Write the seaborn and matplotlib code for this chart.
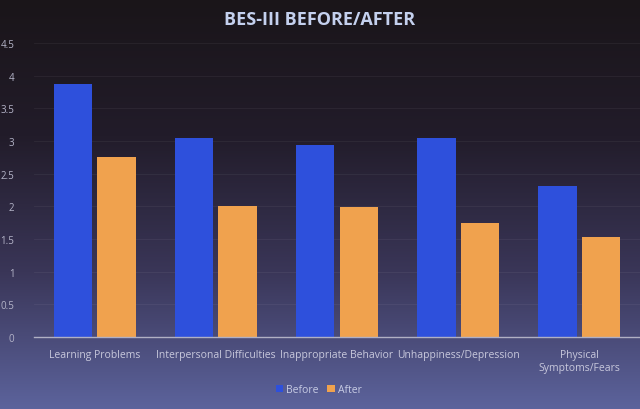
import numpy as np
import pandas as pd
import matplotlib
matplotlib.use("Agg")
import matplotlib.pyplot as plt
import seaborn as sns
from matplotlib.colors import LinearSegmentedColormap

categories = ["Learning Problems", "Interpersonal Difficulties", "Inappropriate Behavior",
              "Unhappiness/Depression", "Physical\nSymptoms/Fears"]
before = [3.87, 3.05, 2.94, 3.05, 2.31]
after = [2.76, 2.00, 1.98, 1.75, 1.53]
series = ["Before", "After"]
yticks = [0, 0.5, 1, 1.5, 2, 2.5, 3, 3.5, 4, 4.5]

df = pd.DataFrame({
    "category": categories * 2,
    "value": before + after,
    "series": ["Before"] * len(categories) + ["After"] * len(categories),
})

sns.set_theme(style="white")
plt.rcParams['font.family'] = ['Open Sans', 'DejaVu Sans']

fig = plt.figure(figsize=(6.4, 4.1), dpi=100)

# background gradient
bg = fig.add_axes([0, 0, 1, 1], zorder=-10)
cmap = LinearSegmentedColormap.from_list("bg", ["#5c639c", "#3a3658", "#221c2a", "#1a1519"])
grad = np.linspace(0, 1, 256).reshape(-1, 1)
bg.imshow(grad, aspect="auto", cmap=cmap, extent=[0, 1, 0, 1], origin="lower")
bg.axis("off")

ax = fig.add_axes([0.053, 0.176, 0.947, 0.717])
ax.patch.set_alpha(0)
sns.barplot(data=df, x="category", y="value", hue="series", hue_order=series,
            palette={"Before": "#2e50dc", "After": "#f0a24e"},
            width=0.72, gap=0.12, ax=ax, legend=True, saturation=1, linewidth=0)
ax.set_ylim(0, 4.5)
ax.set_yticks(yticks)
ax.set_yticklabels([f"{t:g}" for t in yticks], fontsize=7, color="#b4b4c8")
ax.set_xlim(-0.5, 4.5)
ax.tick_params(axis="x", labelsize=7.5, colors="#c8c8dc", length=0, pad=9)
ax.tick_params(axis="y", length=0, pad=14)
ax.set_xlabel("")
ax.set_ylabel("")
for s in ["top", "right", "left"]:
    ax.spines[s].set_visible(False)
ax.spines["bottom"].set_color("#b0b0c4")
ax.spines["bottom"].set_linewidth(1.0)
ax.yaxis.grid(True, color="#ffffff", alpha=0.05, linewidth=0.8)
ax.set_axisbelow(True)

leg = ax.legend(loc="upper center", bbox_to_anchor=(0.47, -0.13), ncol=2, frameon=False,
                fontsize=7.5, handlelength=0.7, handleheight=0.7, handletextpad=0.3,
                columnspacing=0.8)
for t in leg.get_texts():
    t.set_color("#c8cce4")
for h in leg.legend_handles:
    h.set_linewidth(0)

fig.text(0.5, 0.952, "BES-III BEFORE/AFTER", ha="center", va="center",
         fontsize=13, fontweight="bold", color="#c4d0ee")

fig.savefig("out.png", dpi=100)
